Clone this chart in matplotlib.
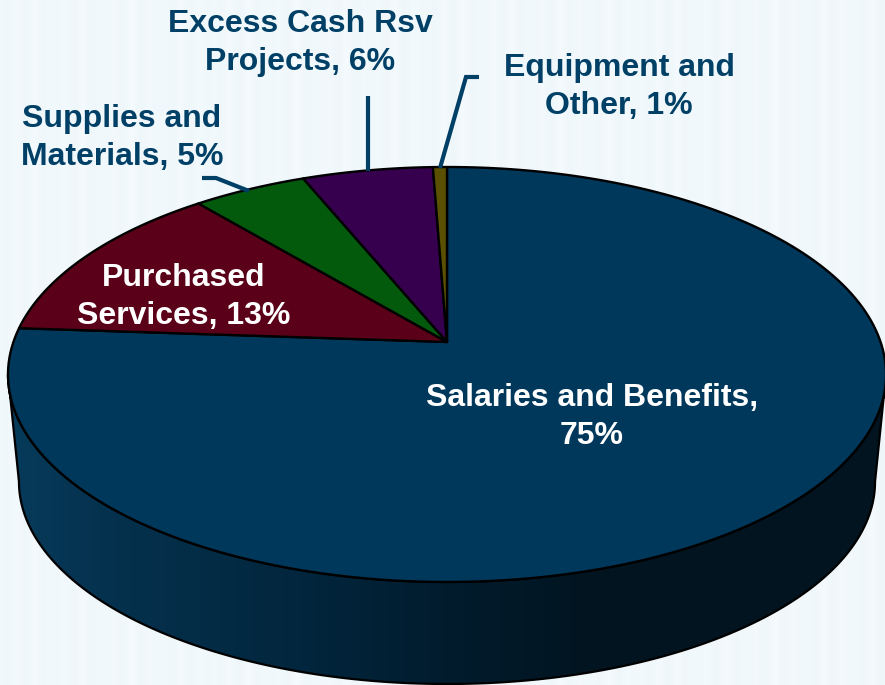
import numpy as np
import matplotlib
matplotlib.use('Agg')
import matplotlib.pyplot as plt
from matplotlib.colors import LinearSegmentedColormap
from matplotlib.patches import Polygon

# shares as drawn (the printed labels are rounded differently by the source)
categories = ['Salaries and Benefits', 'Purchased Services', 'Supplies and Materials',
              'Excess Cash Rsv Projects', 'Equipment and Other']
shares = [76.1, 12.8, 4.9, 5.6, 0.6]
labels = ['Salaries and Benefits,\n75%', 'Purchased\nServices, 13%',
          'Supplies and\nMaterials, 5%', 'Excess Cash Rsv\nProjects, 6%',
          'Equipment and\nOther, 1%']
colors = ['#00385c', '#5a0018', '#045a0c', '#36004f', '#5a5000']
text_colors = ['white', 'white', '#003f66', '#003f66', '#003f66']
label_pos = [(592, 417), (184, 297), (122, 138), (300, 43), (619, 87)]
leaders = [[(202, 178), (216, 178), (249, 191)],
           [(368, 96), (368, 171)],
           [(479, 77), (466, 77), (440, 168)]]

plt.rcParams['font.family'] = ['Liberation Sans', 'DejaVu Sans']

# perspective of the tilted disc
CX, CY = 447, 342
A, B, K = 202.4, 433.6, 0.1566
WALL_DY, WALL_SCALE = 108, 0.975


def project(theta, scale=1.0, dy=0.0):
    # theta clockwise from the top of the disc
    c = -np.cos(theta)
    s = np.sin(theta)
    d = 1 - K * c
    return CX + scale * B * s / d, CY + dy + scale * A * c / d


fig = plt.figure(figsize=(8.85, 6.85), dpi=100)
ax = fig.add_axes([0, 0, 1, 1])
ax.set_xlim(0, 885)
ax.set_ylim(685, 0)
ax.axis('off')

# pale background with faint vertical stripes
xx = np.arange(885)
stripes = 0.5 + 0.5 * np.sin(xx / 3.1) * np.sin(xx / 17.0)
base = np.array([0.955, 0.98, 0.99])
dark = np.array([0.925, 0.96, 0.98])
bg = np.tile(base + (dark - base)[None, :] * stripes[:, None] * 0.6, (685, 1, 1))
ax.imshow(bg, extent=(0, 885, 685, 0), aspect='auto', zorder=0)

# side wall, front half of the rim between the widest points
tilt = np.arcsin(K)
t = np.linspace(np.pi / 2 + tilt, 3 * np.pi / 2 - tilt, 400)
top_x, top_y = project(t)
bot_x, bot_y = project(t, WALL_SCALE, WALL_DY)
wall_xy = np.vstack([np.column_stack([top_x, top_y]),
                     np.column_stack([bot_x, bot_y])[::-1]])
ax.add_patch(Polygon(wall_xy, closed=True, facecolor='none', edgecolor='black', lw=1.6, zorder=3))
wall_cmap = LinearSegmentedColormap.from_list(
    'wall', [(0, '#073c5c'), (0.11, '#05324f'), (0.34, '#02263d'), (0.5, '#011c2e'),
             (0.68, '#01141f'), (1, '#01141f')])
grad = ax.imshow(np.linspace(0, 1, 256)[None, :], extent=(0, 885, 685, 0), aspect='auto',
                 cmap=wall_cmap, zorder=2)
grad.set_clip_path(Polygon(wall_xy, closed=True, transform=ax.transData))

# top of the pie
start = 0.0
fracs = np.array(shares) / np.sum(shares)
for frac, col in zip(fracs, colors):
    ang = np.linspace(start, start + frac, 200) * 2 * np.pi
    px, py = project(ang)
    xy = np.vstack([[CX, CY], np.column_stack([px, py])])
    ax.add_patch(Polygon(xy, closed=True, facecolor=col, edgecolor='black', lw=1.7,
                         joinstyle='round', zorder=4))
    start += frac

for pts in leaders:
    ax.plot(*zip(*pts), color='#003f66', lw=3, solid_joinstyle='miter',
            solid_capstyle='butt', zorder=5)

for lab, pos, tc in zip(labels, label_pos, text_colors):
    ax.text(pos[0], pos[1], lab, color=tc, fontsize=23, fontweight='bold', ha='center',
            va='center', linespacing=1.36, zorder=6)

fig.savefig('out.png', dpi=100)
